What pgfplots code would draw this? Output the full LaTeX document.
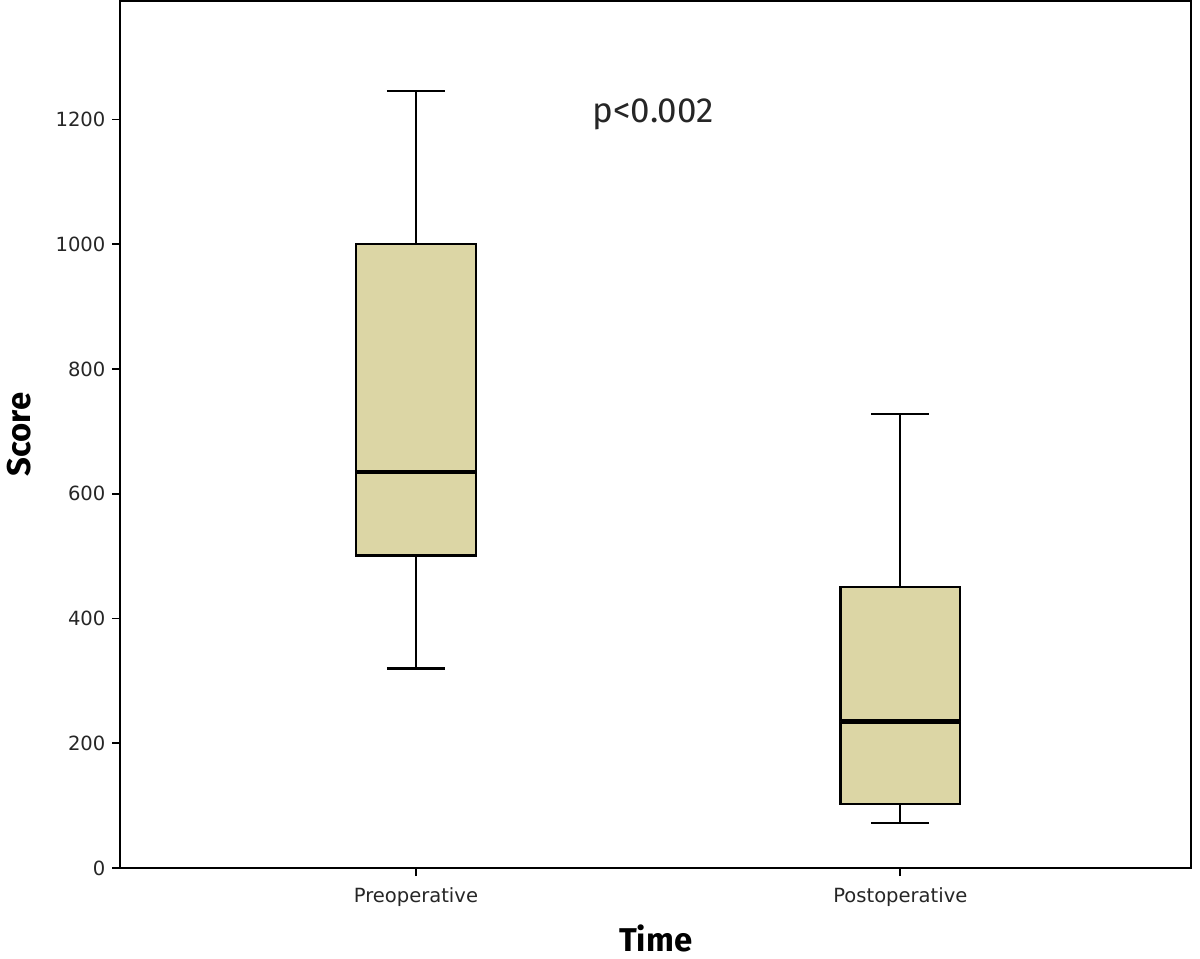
\documentclass[border=0pt]{standalone}
\usepackage{fontspec}
\setmainfont{Fira Sans}
\newfontfamily\tickfont{DejaVu Sans}
\usepackage{pgfplots}
\usepgfplotslibrary{statistics}
\pgfplotsset{compat=1.18}
\definecolor{boxfill}{RGB}{220,214,165}
\begin{document}
\begin{tikzpicture}
\begin{axis}[
  scale only axis,
  width=536.5pt, height=434.5pt,
  xmin=0.39, xmax=2.6,
  ymin=0, ymax=1390,
  xtick={1,2},
  xticklabels={Preoperative,Postoperative},
  ytick={0,200,400,600,800,1000,1200},
  tick pos=left,
  tick align=outside,
  major tick length=4pt,
  axis line style={line width=1pt},
  major tick style={black, line width=0.9pt},
  /pgf/number format/assume math mode=true,
  /pgf/number format/1000 sep={},
  tick label style={font=\tickfont\fontsize{9.8}{12}\selectfont, text=black!85},
  xticklabel style={yshift=-2.5pt},
  xlabel={Time}, ylabel={Score},
  xlabel style={font=\fontsize{16.5}{18}\selectfont\bfseries, at={(axis description cs:0.5,0)}, anchor=center, yshift=-35pt},
  ylabel style={font=\fontsize{16.5}{18}\selectfont\bfseries, at={(axis description cs:0,0.5)}, anchor=center, yshift=51pt},
  boxplot/draw direction=y,
  clip=false,
]
\addplot+[draw=black, line width=1.1pt, fill=boxfill, solid, mark=none,
  boxplot prepared={lower whisker=320, lower quartile=501, median=635,
    upper quartile=1001, upper whisker=1246, draw position=1,
    box extend=0.247, whisker extend=0.12,
    every median/.style={line width=2.4pt}}]
  coordinates {};
\addplot+[draw=black, line width=1.1pt, fill=boxfill, solid, mark=none,
  boxplot prepared={lower whisker=72, lower quartile=103, median=235,
    upper quartile=450, upper whisker=728, draw position=2,
    box extend=0.247, whisker extend=0.12,
    every median/.style={line width=2.4pt}}]
  coordinates {};
\node[font=\fontsize{17.5}{19}\selectfont, text=black!85] at (axis cs:1.49,1208) {p\textless 0.002};
\node[inner sep=0pt, minimum size=0pt, xshift=4.5pt] at (axis description cs:1,0.5) {};
\end{axis}
\end{tikzpicture}
\end{document}
